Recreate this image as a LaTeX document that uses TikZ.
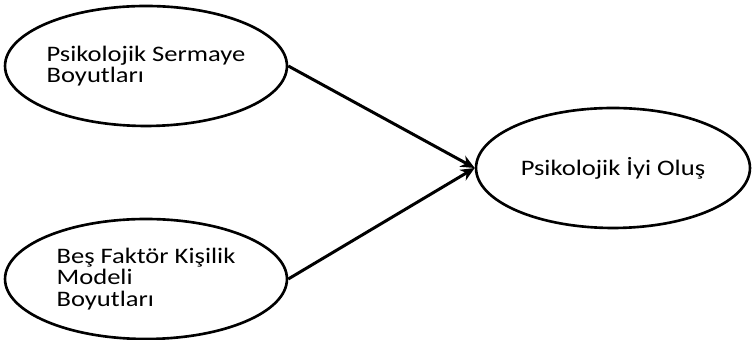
\documentclass[tikz,border=0pt]{standalone}
\usepackage{fontspec}
\setmainfont{Carlito}[FakeStretch=1.2]
\usetikzlibrary{shapes.geometric,arrows.meta}
\tikzset{
  oval/.style={draw,ellipse,line width=1.5pt,inner sep=0pt,minimum width=5.64cm,minimum height=2.4cm,align=left,font=\fontsize{12.6}{12.3}\selectfont},
  link/.style={line width=1.7pt,-{Stealth[length=8pt,width=7pt]}}
}
\begin{document}
\begin{tikzpicture}[x=0.02cm,y=0.02cm]
	\useasboundingbox (0,0) rectangle (753,340);
	\node[oval] (psy) at (146,274) {Psikolojik Sermaye\\Boyutları};
	\node[oval] (big) at (146,61) {Beş Faktör Kişilik\\Modeli\\Boyutları};
	\node[oval,minimum width=5.48cm] (well) at (613,172) {Psikolojik İyi Oluş};
	\draw[link] (psy.east) -- (well.west);
	\draw[link] (big.east) -- (well.west);
\end{tikzpicture}
\end{document}
